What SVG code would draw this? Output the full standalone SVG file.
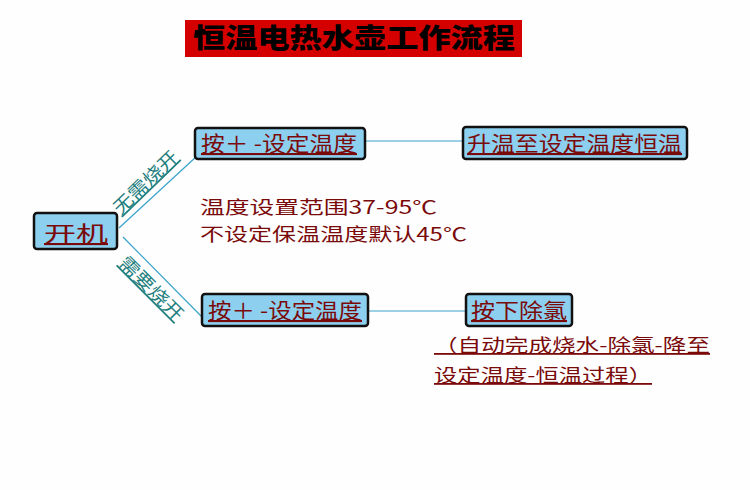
<svg xmlns="http://www.w3.org/2000/svg" width="750" height="490" viewBox="0 0 750 490">
<defs>
<style>
.cjk{font-family:"Noto Sans CJK SC","Noto Sans",sans-serif;}
.box{fill:#8ccfee;stroke:#111;stroke-width:2.5;}
.bt{font-size:21px;fill:#7a0a0a;text-decoration:underline;}
.info{font-size:18px;fill:#7a0a0a;}
.lbl{font-size:18px;fill:#1f7f7f;text-decoration:underline;}
.conn{stroke:#3aa3cc;stroke-width:1.2;fill:none;}
</style>
</defs>
<rect width="750" height="490" fill="#fefefe"/>
<g id="title">
<rect x="185" y="20" width="337" height="37" fill="#d40000"/>
<text class="cjk" x="193" y="48" font-size="27" font-weight="900" fill="#000" textLength="322" lengthAdjust="spacingAndGlyphs">恒温电热水壶工作流程</text>
</g>
<g id="connectors">
<line class="conn" x1="119" y1="228" x2="197" y2="156"/>
<line class="conn" x1="123" y1="237" x2="203" y2="318"/>
<line class="conn" x1="365" y1="141" x2="463" y2="141"/>
<line class="conn" x1="368" y1="311" x2="466" y2="311"/>
<text class="cjk lbl" x="150" y="187" text-anchor="middle" textLength="82" lengthAdjust="spacingAndGlyphs" transform="rotate(-44 150 187)">无需烧开</text>
<text class="cjk lbl" x="147" y="293" text-anchor="middle" textLength="82" lengthAdjust="spacingAndGlyphs" transform="rotate(45 147 293)">需要烧开</text>
</g>
<g id="start">
<rect class="box" x="34" y="213" width="83" height="36" rx="3"/>
<text class="cjk bt" x="44" y="241" font-size="26" textLength="64" lengthAdjust="spacingAndGlyphs">开机</text>
</g>
<g id="setTemp1">
<rect class="box" x="195" y="128" width="170" height="31" rx="3"/>
<text class="cjk bt" x="201" y="151" textLength="156" lengthAdjust="spacingAndGlyphs">按＋ -设定温度</text>
</g>
<g id="heatHold">
<rect class="box" x="463" y="127" width="224" height="32" rx="3"/>
<text class="cjk bt" x="467" y="151" textLength="215" lengthAdjust="spacingAndGlyphs">升温至设定温度恒温</text>
</g>
<g id="info">
<text class="cjk info" x="200" y="214" textLength="237" lengthAdjust="spacingAndGlyphs">温度设置范围37-95℃</text>
<text class="cjk info" x="200" y="241" textLength="267" lengthAdjust="spacingAndGlyphs">不设定保温温度默认45℃</text>
</g>
<g id="setTemp2">
<rect class="box" x="202" y="294" width="166" height="32" rx="3"/>
<text class="cjk bt" x="208" y="318" textLength="154" lengthAdjust="spacingAndGlyphs">按＋ -设定温度</text>
</g>
<g id="dechlor">
<rect class="box" x="466" y="294" width="106" height="32" rx="3"/>
<text class="cjk bt" x="471" y="318" textLength="96" lengthAdjust="spacingAndGlyphs">按下除氯</text>
</g>
<g id="note">
<text class="cjk info" x="434" y="352" text-decoration="underline" textLength="276" lengthAdjust="spacingAndGlyphs">（自动完成烧水-除氯-降至</text>
<text class="cjk info" x="434" y="382" text-decoration="underline" textLength="218" lengthAdjust="spacingAndGlyphs">设定温度-恒温过程）</text>
</g>
</svg>
